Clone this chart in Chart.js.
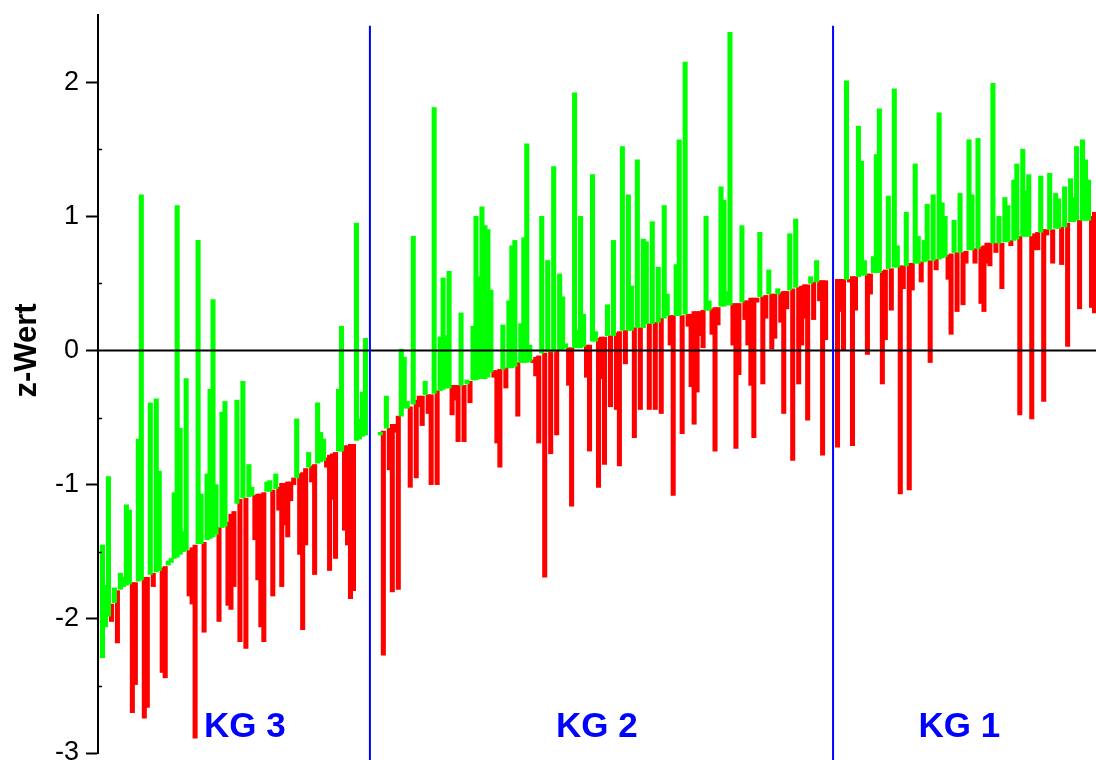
<!DOCTYPE html>
<html>
<head>
<meta charset="utf-8">
<script src="https://cdn.jsdelivr.net/npm/chart.js@4.4.1/dist/chart.umd.min.js"></script>
<style>
  html, body { margin: 0; padding: 0; background: #ffffff; overflow: hidden; }
  #wrap { width: 1096px; height: 760px; position: relative; }
</style>
</head>
<body>
<div id="wrap"><canvas id="chart" width="1096" height="760"></canvas></div>
<script>
// Group names, left to right
const groupNames = ['KG 3', 'KG 2', 'KG 1'];

// Y axis
const yMin = -3;
const yMax = 2.5;
const yTickStep = 1;
const axisTitle = 'z-Wert';

// KG 3: sorted reference z-value (base) and the paired z-value of each person
const kg3Base = [
  -2.29, -2.06, -1.98, -1.89, -1.88, -1.79, -1.78, -1.76, -1.75, -1.74,
  -1.73, -1.73, -1.72, -1.71, -1.69, -1.69, -1.67, -1.66, -1.65, -1.64,
  -1.62, -1.61, -1.60, -1.58, -1.55, -1.54, -1.52, -1.50, -1.49, -1.49,
  -1.47, -1.45, -1.44, -1.44, -1.43, -1.41, -1.40, -1.39, -1.37, -1.32,
  -1.32, -1.31, -1.28, -1.22, -1.20, -1.14, -1.11, -1.10, -1.10, -1.09,
  -1.08, -1.08, -1.07, -1.07, -1.06, -1.05, -1.05, -1.04, -1.03, -1.02,
  -0.99, -0.99, -0.98, -0.98, -0.95, -0.95, -0.92, -0.91, -0.88, -0.87,
  -0.86, -0.85, -0.84, -0.83, -0.82, -0.80, -0.78, -0.77, -0.76, -0.75,
  -0.75, -0.71, -0.71, -0.70, -0.70, -0.67, -0.66, -0.64, -0.63
];
const kg3Value = [
  -1.45, -1.75, -0.94, -2.02, -1.77, -2.18, -1.66, -1.69, -1.15, -1.19,
  -2.70, -2.49, -0.66,  1.16, -2.74, -2.66, -0.39, -1.76, -0.36, -0.90,
  -2.40, -2.44, -1.57, -1.55, -1.06,  1.08, -0.58, -1.35, -0.21, -1.83,
  -1.89, -2.89,  0.82, -1.07, -2.10, -0.92, -0.29,  0.38, -1.00, -2.02,
  -0.46, -0.38, -1.90, -1.93, -1.76, -0.37, -2.17, -0.23, -2.22, -0.85,
  -1.02, -1.41, -1.71, -2.06, -2.17, -0.98, -0.97, -1.83, -0.92, -1.19,
  -1.76, -1.30, -1.39, -1.12, -1.00, -0.51, -1.52, -2.08, -1.45, -0.76,
  -0.98, -1.67, -0.39, -0.61, -0.66, -0.87, -1.64, -1.11, -1.55, -0.29,
   0.18, -1.34, -1.45, -1.85, -1.79,  0.95, -0.51, -0.31,  0.09
];

// KG 2
const kg2Base = [
  -0.63, -0.60, -0.58, -0.58, -0.55, -0.55, -0.49, -0.49, -0.43, -0.43,
  -0.42, -0.40, -0.37, -0.34, -0.34, -0.33, -0.33, -0.33, -0.32, -0.30,
  -0.30, -0.29, -0.28, -0.28, -0.26, -0.26, -0.26, -0.26, -0.26, -0.25,
  -0.23, -0.22, -0.22, -0.21, -0.21, -0.21, -0.20, -0.16, -0.15, -0.15,
  -0.14, -0.14, -0.13, -0.13, -0.13, -0.12, -0.09, -0.09, -0.09, -0.09,
  -0.08, -0.07, -0.05, -0.04, -0.02, -0.02, -0.01, -0.01, -0.01,  0.00,
   0.00,  0.01,  0.02,  0.02,  0.02,  0.02,  0.02,  0.02,  0.03,  0.04,
   0.04,  0.07,  0.07,  0.09,  0.10,  0.10,  0.11,  0.11,  0.11,  0.13,
   0.14,  0.15,  0.15,  0.15,  0.15,  0.17,  0.17,  0.17,  0.17,  0.20,
   0.20,  0.20,  0.21,  0.21,  0.24,  0.24,  0.26,  0.26,  0.26,  0.26,
   0.26,  0.26,  0.27,  0.27,  0.27,  0.29,  0.29,  0.29,  0.30,  0.30,
   0.30,  0.31,  0.32,  0.32,  0.33,  0.33,  0.34,  0.34,  0.35,  0.35,
   0.35,  0.36,  0.37,  0.37,  0.39,  0.39,  0.39,  0.40,  0.40,  0.41,
   0.42,  0.42,  0.42,  0.42,  0.43,  0.44,  0.44,  0.45,  0.46,  0.47,
   0.47,  0.48,  0.49,  0.49,  0.50,  0.51,  0.51,  0.52,  0.52,  0.52
];
const kg2Value = [
  -0.61, -2.27, -0.34, -0.89, -1.80, -0.61, -1.78,  0.01, -0.05, -0.38,
  -1.02,  0.85, -0.95, -0.42, -0.56, -0.23, -0.47, -1.00,  1.81, -1.00,
   0.10,  0.54,  0.11,  0.59, -0.48, -0.37, -0.68,  0.28, -0.68, -0.22,
  -0.39,  0.18,  1.00,  0.55,  1.07,  0.93,  0.90,  0.45, -0.20, -0.69,
  -0.87,  0.19, -0.28,  0.37,  0.78,  0.82, -0.49,  0.20,  0.84,  1.54,
   0.04, -0.09, -0.19, -0.69,  1.00, -1.69,  0.67, -0.77,  1.37, -0.63,
   0.57,  0.40,  0.05, -0.26, -1.16,  1.92,  0.15,  1.00,  0.27, -0.20,
  -0.75,  1.31,  0.14, -1.02, -0.21, -0.85,  0.34, -0.42,  0.82, -0.44,
  -0.86,  1.52, -0.10,  1.16,  0.48, -0.65,  1.42, -0.44,  0.83,  0.81,
  -0.44,  0.96, -0.44,  0.62, -0.47,  1.08,  0.42,  0.04, -1.08,  0.64,
   1.57, -0.62,  2.15,  0.18, -0.27, -0.55, -0.31,  0.11,  0.02,  1.00,
   0.37,  0.12, -0.75,  0.19,  1.22,  1.12,  0.44,  2.37,  0.04, -0.73,
  -0.18,  0.93,  0.23,  0.04, -0.26, -0.65,  0.36,  0.88, -0.25,  0.24,
   0.60,  0.01,  0.09,  0.46,  0.21, -0.47,  0.31,  0.87, -0.82,  0.98,
  -0.25,  0.04,  0.24, -0.52,  0.55,  0.23,  0.67,  0.37, -0.78,  0.08
];

// KG 1
const kg1Base = [
  0.53, 0.53, 0.53, 0.53, 0.53, 0.55, 0.55, 0.55, 0.56, 0.56,
  0.57, 0.57, 0.58, 0.58, 0.58, 0.59, 0.60, 0.61, 0.61, 0.62,
  0.62, 0.63, 0.63, 0.63, 0.65, 0.65, 0.65, 0.65, 0.66, 0.66,
  0.67, 0.67, 0.67, 0.68, 0.68, 0.69, 0.70, 0.71, 0.72, 0.73,
  0.73, 0.73, 0.73, 0.74, 0.75, 0.75, 0.76, 0.76, 0.77, 0.78,
  0.80, 0.80, 0.80, 0.80, 0.80, 0.80, 0.81, 0.81, 0.82, 0.82,
  0.83, 0.85, 0.85, 0.85, 0.85, 0.85, 0.87, 0.88, 0.88, 0.90,
  0.90, 0.90, 0.90, 0.91, 0.91, 0.92, 0.92, 0.95, 0.96, 0.96,
  0.97, 0.97, 0.97, 0.97, 0.97, 1.00, 1.03
];
const kg1Value = [
  -0.72, 0.29, 0.00, 2.01, 0.51, -0.71, 0.30, 1.67, 1.41, 0.67,
  -0.03, 0.42, 0.70, 1.46, 1.80, -0.25, 0.08, 1.15, 0.30, 1.95,
   0.78, -1.07, 0.46, 1.03, -1.04, 0.45, 1.39, 0.85, 0.51, 0.82,
   1.09, -0.09, 1.16, 0.60, 1.77, 1.10, 1.00, 0.53, 0.12, 0.97,
   0.29, 1.17, 0.34, 0.65, 1.57, 1.16, 0.65, 1.58, 0.35, 0.29,
   0.65, 0.63, 1.99, 0.73, 1.00, 0.46, 1.14, 1.08, 0.78, 1.27,
   1.39, -0.48, 1.50, 1.19, 1.31, -0.51, 0.75, 0.75, 1.30, -0.38,
   0.86, 1.32, 0.65, 1.17, 1.13, 0.64, 1.22, 0.03, 1.28, 1.14,
   1.52, 0.31, 1.57, 1.42, 1.27, 0.32, 0.28
];

const groupBases = [kg3Base, kg2Base, kg1Base];
const groupValues = [kg3Value, kg2Value, kg1Value];

// Empty slots on the category axis: before the first group, and on either side of each divider
const leadSlots = 1;
const gapBeforeDivider = [1, 2];
const gapAfterDivider = [3, 1];

// Where each group name sits across its section (0 = left edge, 1 = right edge)
const groupLabelAnchor = [0.54, 0.49, 0.48];

const labels = [];
const upBars = [];
const downBars = [];
const dividerSlots = [];

function pushEmpty(n) {
  for (let i = 0; i < n; i++) {
    labels.push('');
    upBars.push(null);
    downBars.push(null);
  }
}

pushEmpty(leadSlots);
groupNames.forEach((name, g) => {
  if (g > 0) {
    pushEmpty(gapBeforeDivider[g - 1]);
    dividerSlots.push(labels.length);
    pushEmpty(gapAfterDivider[g - 1]);
  }
  const base = groupBases[g];
  const val = groupValues[g];
  for (let i = 0; i < base.length; i++) {
    labels.push(name + ' ' + (i + 1));
    if (val[i] >= base[i]) {
      upBars.push([base[i], val[i]]);
      downBars.push(null);
    } else {
      upBars.push(null);
      downBars.push([base[i], val[i]]);
    }
  }
});

const FONT = '"Liberation Sans", Arial, Helvetica, sans-serif';

// Zero line, group dividers, minor ticks, group names and the axis title
const overlay = {
  id: 'overlay',
  afterDatasetsDraw(chart) {
    const { ctx, chartArea, scales: { x, y } } = chart;
    ctx.save();

    // zero line
    const y0 = y.getPixelForValue(0);
    ctx.strokeStyle = '#000000';
    ctx.lineWidth = 2;
    ctx.beginPath();
    ctx.moveTo(chartArea.left, y0);
    ctx.lineTo(chartArea.right, y0);
    ctx.stroke();

    // minor ticks on the inside of the y axis
    ctx.lineWidth = 1.5;
    for (let v = yMin + 0.5; v < yMax - 0.5; v += 1) {
      const py = Math.round(y.getPixelForValue(v)) + 0.5;
      ctx.beginPath();
      ctx.moveTo(chartArea.left, py);
      ctx.lineTo(chartArea.left + 4, py);
      ctx.stroke();
    }

    // dividers between the groups
    const divX = dividerSlots.map(s => (x.getPixelForValue(s - 1) + x.getPixelForValue(s)) / 2);
    ctx.strokeStyle = '#0000ff';
    ctx.lineWidth = 2;
    const divTop = y.getPixelForValue(2.42);
    divX.forEach(px => {
      ctx.beginPath();
      ctx.moveTo(px, divTop);
      ctx.lineTo(px, chart.height);
      ctx.stroke();
    });

    // group names
    const bounds = [chartArea.left, ...divX, chartArea.right];
    ctx.fillStyle = '#0000ff';
    ctx.font = 'bold 35px ' + FONT;
    ctx.textAlign = 'center';
    ctx.textBaseline = 'middle';
    const ly = y.getPixelForValue(-2.81);
    groupNames.forEach((name, g) => {
      const cx = bounds[g] + (bounds[g + 1] - bounds[g]) * groupLabelAnchor[g];
      ctx.fillText(name, cx, ly);
    });

    // axis title
    ctx.fillStyle = '#000000';
    ctx.font = 'bold 31px ' + FONT;
    ctx.translate(27, y.getPixelForValue(0));
    ctx.rotate(-Math.PI / 2);
    ctx.fillText(axisTitle, 0, 0);

    ctx.restore();
  }
};

new Chart(document.getElementById('chart'), {
  type: 'bar',
  data: {
    labels: labels,
    datasets: [
      {
        label: 'höher',
        data: upBars,
        backgroundColor: '#00ff00',
        borderWidth: 0,
        grouped: false,
        barThickness: 4.4
      },
      {
        label: 'niedriger',
        data: downBars,
        backgroundColor: '#ff0000',
        borderWidth: 0,
        grouped: false,
        barThickness: 4.4
      }
    ]
  },
  options: {
    responsive: false,
    animation: false,
    layout: { padding: { left: 0, right: 0, top: 15, bottom: 7 } },
    plugins: {
      legend: { display: false },
      tooltip: { enabled: false }
    },
    scales: {
      x: {
        display: false,
        offset: true
      },
      y: {
        min: yMin,
        max: yMax,
        ticks: {
          stepSize: yTickStep,
          includeBounds: false,
          color: '#000000',
          padding: 7,
          font: { family: FONT, size: 27 }
        },
        grid: {
          drawOnChartArea: false,
          drawTicks: true,
          tickLength: 12,
          tickColor: '#000000',
          tickWidth: 2
        },
        border: { display: true, color: '#000000', width: 2 },
        afterFit(scale) {
          scale.width = 98;
          scale.paddingTop = 0;
          scale.paddingBottom = 0;
        }
      }
    }
  },
  plugins: [overlay]
});
</script>
</body>
</html>
